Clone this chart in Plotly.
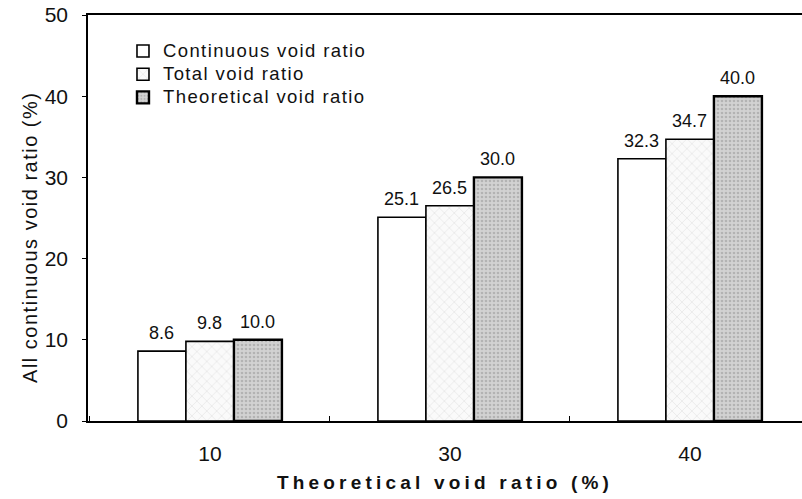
import plotly.graph_objects as go

categories = ["10", "30", "40"]
continuous = [8.6, 25.1, 32.3]
total = [9.8, 26.5, 34.7]
theoretical = [10.0, 30.0, 40.0]
series_names = ["Continuous void ratio", "Total void ratio", "Theoretical void ratio"]
y_ticks = [0, 10, 20, 30, 40, 50]

FONT = "Liberation Sans, Arial, sans-serif"
INK = "#111111"

def sp(t, px, size=None):
    style = "letter-spacing:%spx" % px
    if size:
        style += ";font-size:%spx" % size
    return '<span style="%s">%s</span>' % (style, t)

series = [continuous, total, theoretical]
markers = [
    dict(color="white", line=dict(color="black", width=1.6)),
    dict(color="#fbfbfb", line=dict(color="black", width=1.6),
         pattern=dict(shape="x", fgcolor="#c4c4c4", bgcolor="#fafafa", size=7, solidity=0.15)),
    dict(color="#cdcdcd", line=dict(color="black", width=2.4),
         pattern=dict(shape=".", fgcolor="#939393", bgcolor="#d2d2d2", size=4, solidity=0.35)),
]

fig = go.Figure()
for name, vals, mk in zip(series_names, series, markers):
    fig.add_trace(go.Bar(x=categories, y=vals, name=sp(name, 1.4, 18.5), marker=mk))

# value labels above bars
bar_px = 48  # bar width in px (0.2 of a 240 px category)
for i, vals in enumerate(series):
    for j, v in enumerate(vals):
        fig.add_annotation(x=j, y=v, xref="x", yref="y", text=f"{v:.1f}",
                           showarrow=False, xshift=(i - 1) * bar_px, yshift=6,
                           yanchor="bottom", font=dict(size=18, family=FONT, color=INK))

# y-axis title
fig.add_annotation(xref="paper", yref="paper", x=-0.0812, y=0.451,
                   text=sp("All continuous void ratio (%)", 1.5), textangle=-90,
                   showarrow=False, xanchor="center", yanchor="middle",
                   font=dict(size=20, family=FONT, color=INK))

fig.update_layout(
    width=802, height=499,
    margin=dict(l=88, r=0, t=15, b=78),
    paper_bgcolor="white", plot_bgcolor="white",
    font=dict(family=FONT, color=INK, size=20),
    barmode="group", bargap=0.4, bargroupgap=0,
    showlegend=True,
    legend=dict(x=0.049, y=0.952, xanchor="left", yanchor="top",
                bgcolor="rgba(0,0,0,0)", font=dict(size=15.5, family=FONT, color=INK),
                itemwidth=30, tracegroupgap=0),
    xaxis=dict(
        type="category", range=[-0.508, 2.467],
        showline=True, linecolor="black", linewidth=1.6, mirror=True,
        ticks="inside", tickson="boundaries", ticklen=5, tickcolor="black",
        tickfont=dict(size=21, family=FONT, color=INK), ticklabelstandoff=13,
        showgrid=False, zeroline=False,
        title=dict(text="<b>" + sp("Theoretical void ratio (%)", 4.2) + "</b>",
                   font=dict(size=19, family=FONT, color=INK), standoff=12),
    ),
    yaxis=dict(
        range=[0, 50], tickvals=y_ticks,
        showline=True, linecolor="black", linewidth=1.6, mirror=False,
        ticks="outside", ticklen=4, tickcolor="black", ticklabeloverflow="allow",
        tickfont=dict(size=21, family=FONT, color=INK), ticklabelstandoff=10,
        showgrid=False, zeroline=False,
    ),
)

fig.write_html("out.html", config={"displayModeBar": False},
               post_script="document.body.style.margin='0';")
